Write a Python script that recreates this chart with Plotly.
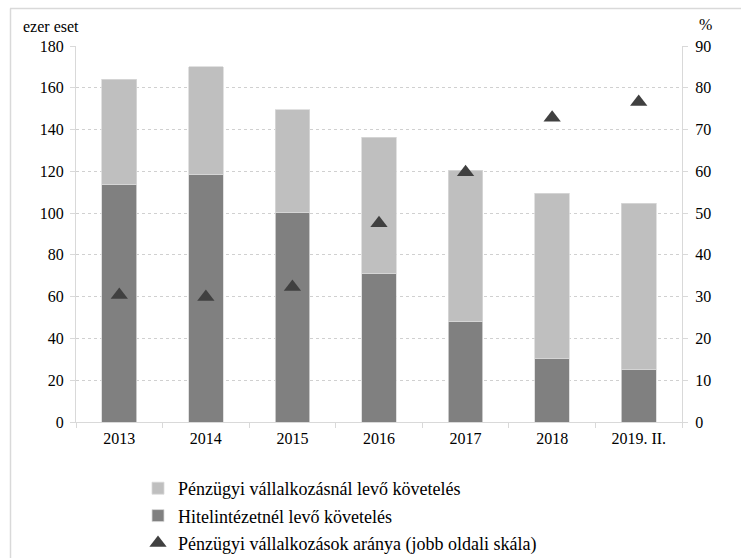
import plotly.graph_objects as go

categories = ["2013", "2014", "2015", "2016", "2017", "2018", "2019. II."]
hitelintezet = [113.9, 118.7, 100.5, 71.3, 48.3, 30.2, 24.9]
penzugyi_vall = [50.3, 51.3, 48.9, 65.1, 72.3, 79.4, 79.9]
arany = [30.4, 29.9, 32.3, 47.6, 59.8, 72.8, 76.6]

FONT = "Liberation Serif"

fig = go.Figure()
fig.add_trace(go.Bar(
    x=categories, y=hitelintezet, name="Hitelintézetnél levő követelés",
    marker=dict(color="#808080", line=dict(color="#d9d9d9", width=0.8)),
    legendrank=2, legendgroup="b",
))
fig.add_trace(go.Bar(
    x=categories, y=penzugyi_vall, name="Pénzügyi vállalkozásnál levő követelés",
    marker=dict(color="#bfbfbf", line=dict(color="#d9d9d9", width=0.8)),
    legendrank=1, legendgroup="a",
))
fig.add_trace(go.Scatter(
    x=categories, y=arany, name="Pénzügyi vállalkozások aránya (jobb oldali skála)",
    mode="markers", yaxis="y2",
    marker=dict(symbol="triangle-up", size=15, color="#404040"),
    legendrank=3, legendgroup="c",
))

W, H = 741, 558
L, R, T, B = 76, 59, 46, 136
pw, ph = W - L - R, H - T - B

def px(x):
    return (x - L) / pw

def py(y):
    return (H - B - y) / ph

fig.update_layout(
    width=W, height=H,
    margin=dict(l=L, r=R, t=T, b=B, autoexpand=False),
    barmode="stack", bargap=0.6,
    plot_bgcolor="white", paper_bgcolor="white",
    font=dict(family=FONT, size=16, color="#000000"),
    xaxis=dict(
        showline=True, linecolor="#d9d9d9", linewidth=1,
        ticks="outside", tickson="boundaries", ticklen=5, tickcolor="#d9d9d9",
        showgrid=False, tickfont=dict(family=FONT, size=16), ticklabelstandoff=2,
    ),
    yaxis=dict(
        range=[0, 180], dtick=20, showline=True, linecolor="#d9d9d9", linewidth=1,
        ticks="outside", ticklen=5, tickcolor="#d9d9d9",
        showgrid=True, gridcolor="#d0d0d0", griddash="dot", gridwidth=1,
        zeroline=False, tickfont=dict(family=FONT, size=16), ticklabelstandoff=3,
    ),
    yaxis2=dict(
        range=[0, 90], dtick=10, overlaying="y", side="right",
        showline=True, linecolor="#d9d9d9", linewidth=1,
        ticks="outside", ticklen=5, tickcolor="#d9d9d9",
        showgrid=False, zeroline=False, tickfont=dict(family=FONT, size=16),
        ticklabelstandoff=4,
    ),
    legend=dict(
        x=px(138), y=py(470), xanchor="left", yanchor="top",
        traceorder="grouped", tracegroupgap=1,
        font=dict(family=FONT, size=18), bgcolor="rgba(0,0,0,0)",
    ),
    annotations=[
        dict(text="ezer eset", x=px(21), y=py(26), xref="paper", yref="paper",
             xanchor="left", yanchor="middle", showarrow=False,
             font=dict(family=FONT, size=16)),
        dict(text="%", x=px(697), y=py(25), xref="paper", yref="paper",
             xanchor="left", yanchor="middle", showarrow=False,
             font=dict(family=FONT, size=16)),
    ],
    shapes=[
        dict(type="line", xref="paper", yref="paper", x0=px(10), x1=px(741),
             y0=py(8.5), y1=py(8.5), line=dict(color="#d9d9d9", width=1.5)),
        dict(type="line", xref="paper", yref="paper", x0=px(10.5), x1=px(10.5),
             y0=py(8.5), y1=py(558), line=dict(color="#d9d9d9", width=1.5)),
    ],
)

fig.write_html("out.html")
